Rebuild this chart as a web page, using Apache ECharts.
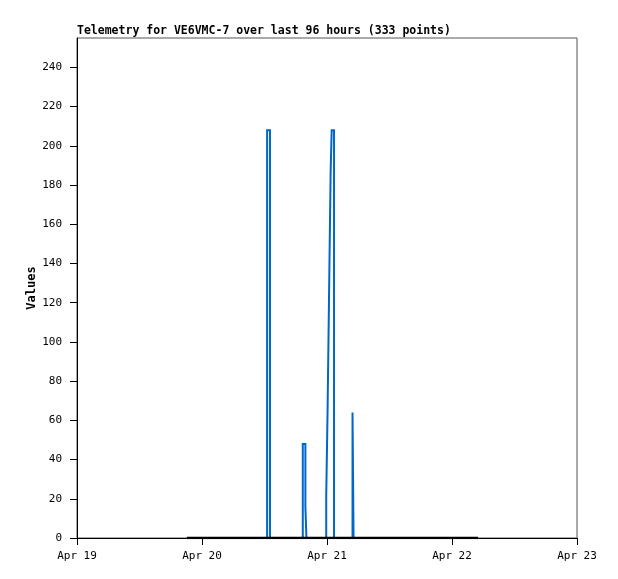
<!DOCTYPE html>
<html>
<head>
<meta charset="utf-8">
<script src="https://cdn.jsdelivr.net/npm/echarts@6/dist/echarts.min.js"></script>
<style>
  html, body { margin: 0; padding: 0; background: #fff; }
  #chart { width: 618px; height: 579px; }
</style>
</head>
<body>
<div id="chart"></div>
<script>
// hours after Apr 19 00:00 (UTC) and the value read at that sample
const start = Date.UTC(2024, 3, 19)
const tickLabels = ['Apr 19', 'Apr 20', 'Apr 21', 'Apr 22', 'Apr 23']
const blueHours = [21.1, 36.5, 37.05, 43.35, 43.85, 44.05, 47.85, 48.1, 48.3, 48.5, 48.7, 48.9, 49.35, 52.9, 53.1, 77.0]
const blueValues = [0, 208, 0, 48, 16, 0, 21, 63, 104, 146, 187, 208, 0, 64, 0, 0]
const blackHours = [21.1, 36.5, 48.0, 60.0, 77.0]
const blackValues = [0, 0, 0, 0, 0]

const HOUR = 3600 * 1000
const toPoints = (hours, values) => hours.map((h, i) => [start + h * HOUR, values[i]])

const font = 'DejaVu Sans Mono'
const chart = echarts.init(document.getElementById('chart'))

chart.setOption({
  useUTC: true,
  animation: false,
  title: {
    text: 'Telemetry for VE6VMC-7 over last 96 hours (333 points)',
    left: 72,
    top: 20,
    textStyle: { fontFamily: font, fontSize: 11.5, fontWeight: 'bold', color: '#000' }
  },
  grid: {
    left: 77,
    right: 41,
    top: 38,
    bottom: 41,
    show: true,
    borderColor: '#555',
    borderWidth: 1
  },
  xAxis: {
    type: 'time',
    min: start,
    max: start + 96 * HOUR,
    interval: 24 * HOUR,
    splitLine: { show: false },
    axisLine: { lineStyle: { color: '#000', width: 1 } },
    axisTick: { show: true, length: 7, lineStyle: { color: '#000' } },
    axisLabel: {
      fontFamily: font,
      fontSize: 11,
      color: '#000',
      margin: 13,
      showMinLabel: true,
      showMaxLabel: true,
      formatter: val => tickLabels[Math.round((val - start) / (24 * HOUR))]
    }
  },
  yAxis: {
    type: 'value',
    min: 0,
    max: 255,
    interval: 20,
    name: 'Values',
    nameLocation: 'middle',
    nameGap: 39,
    nameMoveOverlap: false,
    nameTextStyle: { fontFamily: font, fontSize: 12, fontWeight: 'bold', color: '#000' },
    splitLine: { show: false },
    axisLine: { show: true, lineStyle: { color: '#000' } },
    axisTick: { show: true, length: 7, lineStyle: { color: '#000' } },
    axisLabel: {
      fontFamily: font,
      fontSize: 11,
      color: '#000',
      margin: 15,
      showMaxLabel: false
    }
  },
  series: [
    {
      name: 'ch1',
      type: 'line',
      step: 'end',
      data: toPoints(blueHours, blueValues),
      showSymbol: false,
      lineStyle: { color: '#0066cc', width: 2, join: 'miter', cap: 'butt' }
    },
    {
      name: 'ch2',
      type: 'line',
      step: 'end',
      data: toPoints(blackHours, blackValues),
      showSymbol: false,
      lineStyle: { color: '#000', width: 2.5 }
    }
  ]
})
</script>
</body>
</html>
